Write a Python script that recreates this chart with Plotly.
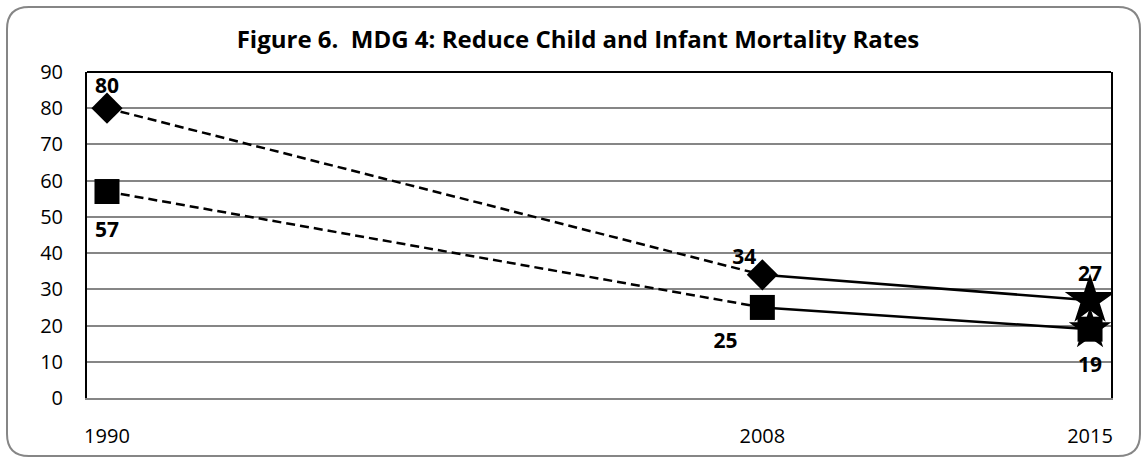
import plotly.graph_objects as go

# Data
years = ["1990", "2008", "2015"]
axis_slots = ["1990", " ", "2008", "2015"]   # blank slot keeps 2008 two steps from 1990
under5 = [80, 34, 27]
infant = [57, 25, 19]
y_ticks = list(range(0, 91, 10))
title_text = "Figure 6.  MDG 4: Reduce Child and Infant Mortality Rates"

# value-label placement
under5_pos = ["top center", "top left", "top center"]
under5_gap = [14, 8, 20]           # invisible marker size sets label distance
infant_pos = ["bottom center", "bottom left", "bottom center"]
infant_gap = [46, 38, 42]

W, H = 1146, 461
L, R, T, B = 87, 35, 72, 63
PW, PH = W - L - R, H - T - B

INK = "#000000"
GRID = "#868686"
DASH = "9px,5px"
FONT = "Open Sans"

fig = go.Figure()

# dashed 1990-2008 segments and solid 2008-2015 segments
for vals in (under5, infant):
    fig.add_trace(go.Scatter(x=years[:2], y=vals[:2], mode="lines",
                             line=dict(color=INK, width=2.5, dash=DASH),
                             hoverinfo="skip", showlegend=False))
    fig.add_trace(go.Scatter(x=years[1:], y=vals[1:], mode="lines",
                             line=dict(color=INK, width=2.5),
                             hoverinfo="skip", showlegend=False))

# under-five series: diamonds, star for the 2015 target
fig.add_trace(go.Scatter(x=years[:2], y=under5[:2], mode="markers", showlegend=False,
                         marker=dict(symbol="diamond", size=24, color=INK,
                                     line=dict(width=0))))
fig.add_trace(go.Scatter(x=years[-1:], y=under5[-1:], mode="markers", showlegend=False,
                         marker=dict(symbol="star", size=38, color=INK,
                                     line=dict(width=0))))
# infant series: star behind the 2015 square
fig.add_trace(go.Scatter(x=years[-1:], y=infant[-1:], mode="markers", showlegend=False,
                         marker=dict(symbol="star", size=32, color=INK, line=dict(width=0))))
fig.add_trace(go.Scatter(x=years, y=infant, mode="markers", showlegend=False,
                         marker=dict(symbol="square", size=25, color=INK,
                                     line=dict(width=0))))

# value labels
for series, pos, gap in ((under5, under5_pos, under5_gap),
                         (infant, infant_pos, infant_gap)):
    fig.add_trace(go.Scatter(
        x=years, y=series, mode="markers+text", showlegend=False, hoverinfo="skip",
        text=[f"<b>{v}</b>" for v in series], textposition=pos,
        textfont=dict(family=FONT, size=21, color=INK),
        marker=dict(size=gap, color="rgba(0,0,0,0)", line=dict(width=0)),
        cliponaxis=False))


def px_to_paper(px, py):
    return (px - L) / PW, (H - B - py) / PH


def rounded_rect(x0, y0, x1, y1, r):
    def p(x, y):
        a, b = px_to_paper(x, y)
        return f"{a:.5f},{b:.5f}"
    pts = [
        "M" + p(x0 + r, y0),
        "L" + p(x1 - r, y0),
        "Q" + p(x1, y0) + " " + p(x1, y0 + r),
        "L" + p(x1, y1 - r),
        "Q" + p(x1, y1) + " " + p(x1 - r, y1),
        "L" + p(x0 + r, y1),
        "Q" + p(x0, y1) + " " + p(x0, y1 - r),
        "L" + p(x0, y0 + r),
        "Q" + p(x0, y0) + " " + p(x0 + r, y0),
    ]
    return " ".join(pts) + " Z"


# outer rounded chart frame
fig.add_shape(type="path", xref="paper", yref="paper",
              path=rounded_rect(7, 7, 1140, 456, 22),
              line=dict(color=GRID, width=2), layer="below")
# black top border of the plot area
fig.add_shape(type="line", xref="paper", yref="paper", x0=0, x1=1, y0=1, y1=1,
              line=dict(color=INK, width=2), layer="above")

fig.update_layout(
    width=W, height=H,
    margin=dict(l=L, r=R, t=T, b=B),
    paper_bgcolor="white", plot_bgcolor="white",
    title=dict(text=f"<b>{title_text}</b>", x=578 / W, xanchor="center",
               y=1 - 40 / H, yanchor="middle", yref="container",
               font=dict(family=FONT, size=24, color=INK)),
    font=dict(family=FONT, size=20, color=INK),
)

fig.update_xaxes(type="category", categoryorder="array", categoryarray=axis_slots,
                 range=[-0.061, 3.064], showgrid=False, zeroline=False,
                 showline=True, linecolor=GRID, linewidth=2,
                 ticks="outside", ticklen=19, tickcolor="rgba(0,0,0,0)",
                 tickfont=dict(family=FONT, size=20, color=INK))
fig.update_yaxes(range=[0, 90], tickvals=y_ticks, showgrid=True, gridcolor=GRID,
                 gridwidth=2, zeroline=False, showline=True, linecolor=INK,
                 linewidth=2, mirror=True,
                 ticks="outside", ticklen=18, tickcolor="rgba(0,0,0,0)",
                 tickfont=dict(family=FONT, size=20, color=INK))

fig.write_html("out.html")
